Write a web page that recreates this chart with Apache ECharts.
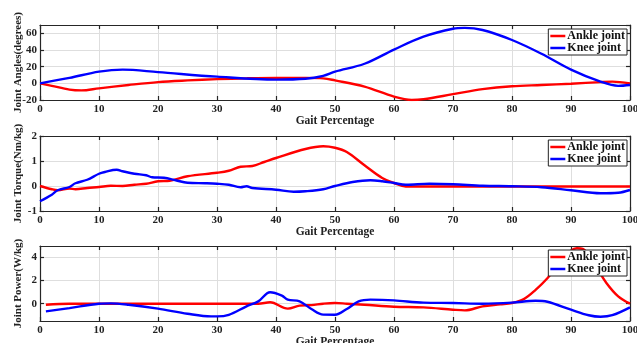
<!DOCTYPE html>
<html>
<head>
<meta charset="utf-8">
<script src="https://cdn.jsdelivr.net/npm/echarts@6/dist/echarts.min.js"></script>
<style>
  html, body { margin: 0; padding: 0; background: #fff; }
  #chart { width: 637px; height: 343px; }
</style>
</head>
<body>
<div id="chart"></div>
<script>
  // gait percentage / value pairs
  const ankleAngle = [[0,0],[2,-3],[5,-7.5],[7,-8.5],[10,-6],[15,-2],[20,1.5],[25,3.5],[30,5],[35,6],[40,6.5],[45,6.5],[48,6],[50,3.5],[55,-4],[60,-16],[63,-20],[65,-19],[70,-13],[75,-7],[80,-3.5],[85,-2],[90,-0.5],[95,1.5],[97,2],[100,0]]
  const kneeAngle = [[0,0],[5,6.5],[10,14],[14,16.5],[20,13.5],[30,8],[40,4.5],[45,5.5],[48,9],[50,14],[55,23.5],[60,40.5],[65,56],[70,65.5],[72,66.5],[75,64],[80,52],[85,35.5],[90,16.5],[95,2],[98,-3],[100,-2]]

  const ankleTorque = [[0,0],[2,-0.13],[3,-0.17],[5,-0.1],[6,-0.13],[8,-0.08],[10,-0.04],[12,0.01],[14,0],[16,0.05],[18,0.09],[20,0.19],[22,0.21],[25,0.39],[30,0.53],[32,0.61],[34,0.77],[36,0.8],[38,0.96],[40,1.12],[45,1.48],[48,1.59],[50,1.53],[52,1.36],[55,0.83],[58,0.32],[60,0.12],[62,-0.02],[70,-0.02],[80,-0.02],[90,-0.02],[100,-0.02]]
  const kneeTorque = [[0,-0.61],[2,-0.35],[3,-0.17],[5,-0.04],[6,0.11],[8,0.25],[10,0.49],[11,0.56],[13,0.65],[14,0.59],[16,0.49],[18,0.43],[19,0.35],[21,0.33],[23,0.23],[25,0.13],[28,0.11],[30,0.09],[32,0.05],[34,-0.05],[35,-0.01],[36,-0.08],[40,-0.15],[43,-0.23],[45,-0.21],[48,-0.13],[50,0],[53,0.16],[56,0.23],[58,0.19],[60,0.12],[62,0.05],[66,0.09],[70,0.07],[75,0.01],[80,-0.01],[85,-0.05],[90,-0.17],[95,-0.29],[98,-0.27],[100,-0.16]]

  const anklePower = [[1,-0.09],[5,0],[10,0],[20,0],[30,0],[37,0],[39,0.12],[42,-0.43],[44,-0.17],[46,-0.12],[48,0],[50,0.06],[52,0],[55,-0.09],[60,-0.26],[65,-0.32],[70,-0.52],[72,-0.58],[75,-0.23],[78,-0.06],[80,0.06],[82,0.4],[84,1.2],[86,2.2],[88,3.5],[90,4.6],[91,4.8],[92,4.75],[94,3.4],[96,1.8],[98,0.64],[100,0]]
  const kneePower = [[1,-0.67],[5,-0.38],[10,0],[12,0.03],[15,-0.09],[20,-0.43],[25,-0.87],[29,-1.1],[30,-1.1],[32,-0.96],[35,-0.23],[37,0.2],[39,0.99],[41,0.7],[42,0.35],[44,0.2],[46,-0.46],[48,-0.95],[50,-0.96],[52,-0.46],[54,0.2],[56,0.35],[60,0.29],[65,0.09],[70,0.06],[75,0],[80,0.09],[84,0.26],[86,0.17],[90,-0.52],[93,-1],[95,-1.13],[97,-1],[100,-0.32]]

  const seriesNames = ['Ankle joint', 'Knee joint']
  const yNames = ['Joint Angles(degrees)', 'Joint Torque(Nm/kg)', 'Joint Power(W/kg)']
  const xName = 'Gait Percentage'
  const yRanges = [[-20, 70, 20], [-1, 2, 1], [-1.5, 5, null]]

  const font = 'Liberation Serif'
  const tops = [25, 136, 246]
  const panelData = [[ankleAngle, kneeAngle], [ankleTorque, kneeTorque], [anklePower, kneePower]]

  const chart = echarts.init(document.getElementById('chart'))

  const grid = [], xAxis = [], yAxis = [], series = [], legend = []
  tops.forEach((top, i) => {
    grid.push({ left: 40, top: top, width: 590, height: 75, show: false, containLabel: false, outerBoundsMode: 'none' })
    const lineStyle = { color: '#262626', width: 1.2 }
    xAxis.push({
      type: 'value', gridIndex: i, min: 0, max: 100, interval: 10,
      name: xName, nameLocation: 'middle', nameGap: 15, nameMoveOverlap: false,
      nameTextStyle: { fontFamily: font, fontWeight: 'bold', fontSize: 11.5, color: '#222' },
      axisLine: { onZero: false, lineStyle: lineStyle },
      axisTick: { inside: true, length: 4, lineStyle: lineStyle },
      axisLabel: { fontFamily: font, fontWeight: 'bold', fontSize: 11, color: '#222', margin: 4 },
      splitLine: { show: true, lineStyle: { color: '#dedede' } }
    })
    xAxis.push({
      type: 'value', gridIndex: i, min: 0, max: 100, interval: 10, position: 'top',
      axisLine: { onZero: false, lineStyle: lineStyle },
      axisTick: { inside: true, length: 4, lineStyle: lineStyle },
      axisLabel: { show: false }, splitLine: { show: false }
    })
    const r = yRanges[i]
    const yBase = { type: 'value', gridIndex: i, min: r[0], max: r[1] }
    if (r[2]) yBase.interval = r[2]
    else yBase.splitNumber = 3
    yAxis.push(Object.assign({}, yBase, {
      name: yNames[i], nameLocation: 'middle', nameGap: 16, nameMoveOverlap: false,
      nameTextStyle: { fontFamily: font, fontWeight: 'bold', fontSize: 11, color: '#222' },
      axisLine: { show: true, onZero: false, lineStyle: lineStyle },
      axisTick: { show: true, inside: true, length: 4, lineStyle: lineStyle },
      axisLabel: { fontFamily: font, fontWeight: 'bold', fontSize: 11, color: '#222', margin: 3,
        showMaxLabel: i === 1, showMinLabel: i !== 2 },
      splitLine: { show: true, lineStyle: { color: '#dedede' } }
    }))
    yAxis.push(Object.assign({}, yBase, {
      position: 'right',
      axisLine: { show: true, onZero: false, lineStyle: lineStyle },
      axisTick: { show: true, inside: true, length: 4, lineStyle: lineStyle },
      axisLabel: { show: false }, splitLine: { show: false }
    }))
    panelData[i].forEach((d, k) => {
      series.push({
        name: seriesNames[k], type: 'line', xAxisIndex: i * 2, yAxisIndex: i * 2,
        data: d, smooth: 0.35, showSymbol: false,
        lineStyle: { width: 2.4, color: k === 0 ? '#ff0000' : '#0000ff' },
        itemStyle: { color: k === 0 ? '#ff0000' : '#0000ff' }
      })
    })
    legend.push({
      data: seriesNames, orient: 'vertical', right: 10, top: top + 4,
      icon: 'rect', itemWidth: 15, itemHeight: 2.5, itemGap: 0,
      backgroundColor: '#fff', borderColor: '#222', borderWidth: 1, borderRadius: 0,
      padding: [1, 2, 1, 2],
      textStyle: { fontFamily: font, fontWeight: 'bold', fontSize: 12, lineHeight: 11, color: '#111', padding: [0, 0, 0, -3] }
    })
  })

  chart.setOption({
    animation: false,
    backgroundColor: '#fff',
    grid: grid,
    xAxis: xAxis,
    yAxis: yAxis,
    legend: legend,
    series: series
  })
</script>
</body>
</html>
